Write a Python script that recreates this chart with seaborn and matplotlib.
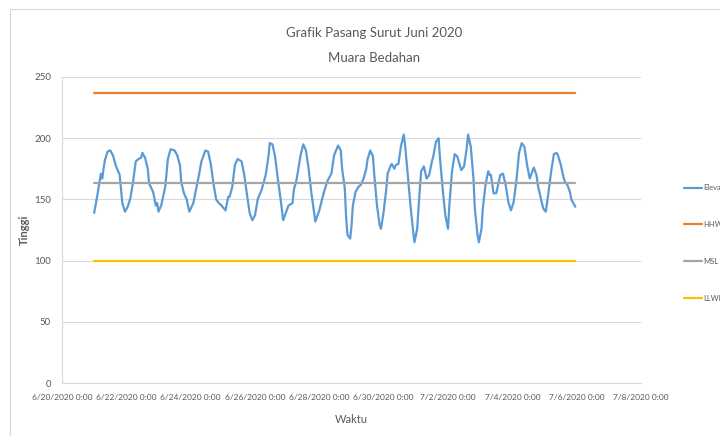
import pandas as pd
import numpy as np
import matplotlib
matplotlib.use("Agg")
import matplotlib.pyplot as plt
import matplotlib.dates as mdates
from matplotlib.patches import Rectangle
import seaborn as sns

# jam sejak 6/21/2020 0:00 dan elevasi muka air
jam = [0, 2, 4, 5, 6, 7, 8, 10, 12, 14, 16, 19, 20, 21, 23, 25, 27, 29, 31, 33,
       35, 36, 38, 40, 41, 44, 46, 47, 48, 50, 53, 55, 57, 60, 62, 64, 65, 67, 69, 71,
       74, 76, 78, 80, 83, 85, 87, 89, 91, 93, 95, 98, 100, 101, 103, 105, 107, 110, 112, 114,
       116, 118, 120, 122, 125, 128, 130, 131, 133, 135, 137, 139, 141, 143, 145, 148, 149, 151, 154, 156,
       158, 160, 162, 164, 165, 168, 170, 172, 174, 177, 179, 182, 184, 185, 187, 188, 189, 191, 192, 193,
       195, 197, 199, 201, 203, 204, 206, 208, 209, 211, 213, 214, 216, 218, 219, 221, 222, 224, 225, 227,
       229, 231, 232, 234, 236, 238, 239, 241, 243, 244, 246, 248, 250, 252, 253, 255, 257, 258, 260, 262,
       264, 265, 267, 269, 271, 273, 274, 276, 278, 279, 281, 283, 284, 286, 287, 289, 290, 292, 294, 295,
       296, 298, 300, 302, 303, 305, 307, 309, 311, 313, 315, 317, 319, 321, 323, 325, 327, 328, 330, 331,
       333, 335, 336, 337, 339, 341, 343, 345, 346, 348, 350, 351, 353, 355, 356, 359]
elevasi = [139, 151, 164, 171, 167, 175, 182, 189, 190, 186, 178, 170, 159, 147, 140, 144, 151, 164, 181, 183,
           184, 188, 184, 175, 163, 156, 145, 147, 140, 145, 160, 183, 191, 190, 186, 178, 164, 155, 150, 140,
           147, 158, 169, 181, 190, 189, 179, 163, 150, 147, 145, 141, 152, 152, 160, 178, 183, 181, 170, 154,
           139, 133, 137, 150, 158, 170, 185, 196, 195, 185, 167, 151, 133, 139, 145, 147, 158, 166, 186, 195,
           190, 175, 156, 140, 132, 141, 150, 158, 165, 171, 186, 194, 190, 175, 159, 135, 121, 118, 128, 145,
           156, 160, 162, 167, 175, 183, 190, 185, 170, 145, 129, 126, 140, 159, 171, 177, 179, 175, 178, 179,
           194, 203, 194, 170, 145, 124, 115, 126, 159, 173, 177, 167, 170, 181, 185, 197, 200, 184, 159, 137,
           126, 145, 173, 187, 185, 177, 174, 177, 192, 203, 193, 167, 143, 121, 115, 126, 143, 162, 173, 170,
           170, 155, 155, 165, 170, 171, 162, 148, 141, 148, 165, 188, 196, 193, 178, 167, 173, 176, 170, 162,
           152, 143, 141, 140, 156, 173, 187, 188, 186, 179, 169, 165, 162, 156, 150, 144]

hhwl = 236.7
msl = 163.8
llwl = 99.6

start = pd.Timestamp("2020-06-21 00:00")
waktu = start + pd.to_timedelta(jam, unit="h")
df = pd.DataFrame({"Waktu": waktu, "Elevasi": elevasi})
df["HHWL"] = hhwl
df["MSL"] = msl
df["LLWL"] = llwl

sns.set_style("white")
plt.rcParams["font.family"] = ["Lato", "DejaVu Sans"]

abu = "#595959"
warna = {"Elevasi": "#5B9BD5", "HHWL": "#ED7D31", "MSL": "#A5A5A5", "LLWL": "#FFC000"}

fig = plt.figure(figsize=(7.2, 4.36), dpi=100)
ax = fig.add_axes([62 / 720, 1 - 383 / 436, (641 - 62) / 720, (383 - 77) / 436])

# bingkai area grafik
fig.patches.append(Rectangle((10 / 720, -0.1), 1.2, 1 - 9 / 436 + 0.1, transform=fig.transFigure,
                             fill=False, edgecolor="#d9d9d9", linewidth=0.8))

for kolom in ["Elevasi", "HHWL", "MSL", "LLWL"]:
    sns.lineplot(data=df, x="Waktu", y=kolom, ax=ax, color=warna[kolom], linewidth=1.6, label=kolom)

ax.set_ylim(0, 250)
ax.set_yticks(np.arange(0, 251, 50))
ax.set_xlim(pd.Timestamp("2020-06-20"), pd.Timestamp("2020-07-08"))
ax.xaxis.set_major_locator(mdates.DayLocator(interval=2))


def fmt_tanggal(x, pos):
    d = mdates.num2date(x)
    return f"{d.month}/{d.day}/{d.year} {d.hour}:{d.minute:02d}"


ax.xaxis.set_major_formatter(plt.FuncFormatter(fmt_tanggal))
ax.grid(axis="y", color="#d9d9d9", linewidth=0.8)
ax.set_axisbelow(True)
for s in ["top", "right"]:
    ax.spines[s].set_visible(False)
for s in ["left", "bottom"]:
    ax.spines[s].set_color("#d9d9d9")
    ax.spines[s].set_linewidth(0.8)
ax.tick_params(axis="y", length=0, labelsize=7, colors=abu, pad=8)
ax.tick_params(axis="x", length=0, labelsize=6, colors=abu, pad=8)

ax.set_xlabel("Waktu", fontsize=8, color=abu, labelpad=9)
ax.set_ylabel("Tinggi", fontsize=8, color=abu, fontweight="bold", labelpad=3)

fig.text(374 / 720, 1 - 33 / 436, "Grafik Pasang Surut Juni 2020", ha="center", va="center",
         fontsize=9.5, color=abu)
fig.text(374 / 720, 1 - 58 / 436, "Muara Bedahan", ha="center", va="center",
         fontsize=9.5, color=abu)

ax.get_legend().remove()
h, l = ax.get_legend_handles_labels()
leg = fig.legend(h, l, loc="center left", bbox_to_anchor=(680 / 720, 1 - 243 / 436), frameon=False,
                 fontsize=5.5, labelspacing=3.9, handlelength=2.4, handletextpad=0.2, borderpad=0,
                 labelcolor=abu)

plt.savefig("out.png", dpi=100)
